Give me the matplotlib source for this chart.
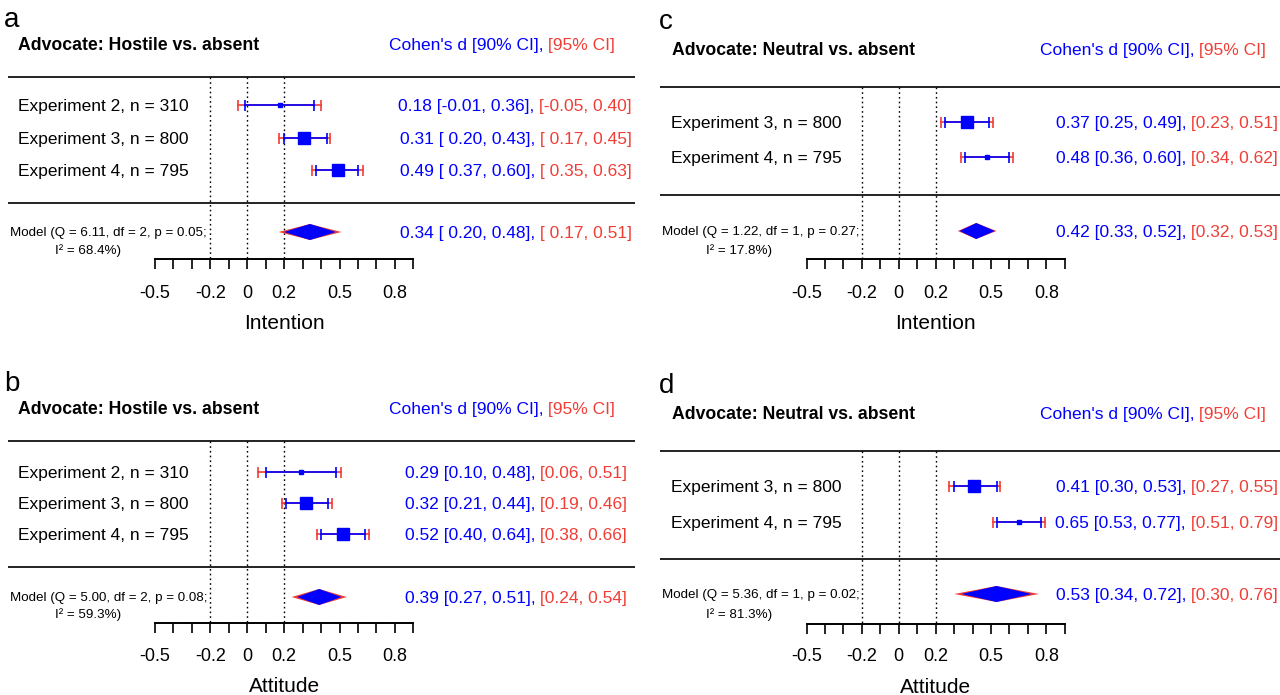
import matplotlib
matplotlib.use('Agg')
import matplotlib.pyplot as plt
import numpy as np

plt.rcParams['font.family'] = ['Liberation Sans', 'DejaVu Sans']

BLUE = '#0000FF'
RED = '#F03E36'

# ---------------- data ----------------
# Panel a: Intention, hostile vs absent
labels_a = ["Experiment 2, n = 310", "Experiment 3, n = 800", "Experiment 4, n = 795"]
d_a = [0.18, 0.31, 0.49]
lo90_a = [-0.01, 0.20, 0.37]
hi90_a = [0.36, 0.43, 0.60]
lo95_a = [-0.05, 0.17, 0.35]
hi95_a = [0.40, 0.45, 0.63]
model_a = [0.34, 0.20, 0.48, 0.17, 0.51]      # d, lo90, hi90, lo95, hi95
stats_a = ["6.11", "2", "0.05", "68.4"]          # Q, df, p, I2

# Panel b: Attitude, hostile vs absent
labels_b = ["Experiment 2, n = 310", "Experiment 3, n = 800", "Experiment 4, n = 795"]
d_b = [0.29, 0.32, 0.52]
lo90_b = [0.10, 0.21, 0.40]
hi90_b = [0.48, 0.44, 0.64]
lo95_b = [0.06, 0.19, 0.38]
hi95_b = [0.51, 0.46, 0.66]
model_b = [0.39, 0.27, 0.51, 0.24, 0.54]
stats_b = ["5.00", "2", "0.08", "59.3"]

# Panel c: Intention, neutral vs absent
labels_c = ["Experiment 3, n = 800", "Experiment 4, n = 795"]
d_c = [0.37, 0.48]
lo90_c = [0.25, 0.36]
hi90_c = [0.49, 0.60]
lo95_c = [0.23, 0.34]
hi95_c = [0.51, 0.62]
model_c = [0.42, 0.33, 0.52, 0.32, 0.53]
stats_c = ["1.22", "1", "0.27", "17.8"]

# Panel d: Attitude, neutral vs absent
labels_d = ["Experiment 3, n = 800", "Experiment 4, n = 795"]
d_d = [0.41, 0.65]
lo90_d = [0.30, 0.53]
hi90_d = [0.53, 0.77]
lo95_d = [0.27, 0.51]
hi95_d = [0.55, 0.79]
model_d = [0.53, 0.34, 0.72, 0.30, 0.76]
stats_d = ["5.36", "1", "0.02", "81.3"]

tick_vals = np.round(np.arange(-0.5, 0.91, 0.1), 1)
tick_labels = {-0.5: "-0.5", -0.2: "-0.2", 0.0: "0", 0.2: "0.2", 0.5: "0.5", 0.8: "0.8"}
ref_lines = [-0.2, 0.0, 0.2]

# ---------------- layout (pixels) ----------------
W, H = 1280, 695
SCALE = 184.5  # px per unit of d
DY = 1.5       # visual centring offset for text

panels = [
    dict(letter='a', title='Advocate: Hostile vs. absent', xlabel='Intention',
         labels=labels_a, d=d_a, lo90=lo90_a, hi90=hi90_a, lo95=lo95_a, hi95=hi95_a,
         model=model_a, stats=stats_a, msize=[2.5, 9, 9],
         left=0, top=0, axis_px=155, letter_xy=(4, 20), title_xy=(18, 44), head_end=615,
         hl=(8, 635), hl1=77, rows=[105, 138, 170], hl2=203, model_y=232, i2_y=250,
         axis_y=259, lab_x=18, model_end=207, i2_x=88, val_end=632, ticklab_y=292, xlab_y=322),
    dict(letter='b', title='Advocate: Hostile vs. absent', xlabel='Attitude',
         labels=labels_b, d=d_b, lo90=lo90_b, hi90=hi90_b, lo95=lo95_b, hi95=hi95_b,
         model=model_b, stats=stats_b, msize=[2.5, 9, 9],
         left=0, top=347.5, axis_px=155, letter_xy=(4, 384), title_xy=(18, 408), head_end=615,
         hl=(8, 635), hl1=441, rows=[472, 503, 534], hl2=567, model_y=597, i2_y=614,
         axis_y=623, lab_x=18, model_end=207, i2_x=88, val_end=627, ticklab_y=655, xlab_y=685),
    dict(letter='c', title='Advocate: Neutral vs. absent', xlabel='Intention',
         labels=labels_c, d=d_c, lo90=lo90_c, hi90=hi90_c, lo95=lo95_c, hi95=hi95_c,
         model=model_c, stats=stats_c, msize=[9, 2.5],
         left=640, top=0, axis_px=806.5, letter_xy=(659, 22), title_xy=(672, 49), head_end=1266,
         hl=(660, 1280), hl1=87, rows=[122, 157], hl2=195, model_y=231, i2_y=250,
         axis_y=259, lab_x=671, model_end=860, i2_x=739, val_end=1278, ticklab_y=292, xlab_y=322),
    dict(letter='d', title='Advocate: Neutral vs. absent', xlabel='Attitude',
         labels=labels_d, d=d_d, lo90=lo90_d, hi90=hi90_d, lo95=lo95_d, hi95=hi95_d,
         model=model_d, stats=stats_d, msize=[8.5, 2.5],
         left=640, top=347.5, axis_px=806.5, letter_xy=(659, 386), title_xy=(672, 413), head_end=1266,
         hl=(660, 1280), hl1=451, rows=[486, 522], hl2=559, model_y=594, i2_y=614,
         axis_y=624, lab_x=671, model_end=860, i2_x=739, val_end=1278, ticklab_y=655, xlab_y=686),
]

FS = 12.5
fig = plt.figure(figsize=(W / 100, H / 100), dpi=100)


def fmt_ci(lo, hi, pad):
    if pad:
        return f"[{lo:5.2f}, {hi:.2f}]"
    return f"[{lo:.2f}, {hi:.2f}]"


for p in panels:
    left, top = p['left'], p['top']
    ax = fig.add_axes([left / W, 1 - (top + 347.5) / H, 640 / W, 347.5 / H])
    ax.set_axis_off()
    ax.set_xlim(-0.5 - (p['axis_px'] - left) / SCALE, -0.5 + (left + 640 - p['axis_px']) / SCALE)
    ax.set_ylim(top + 347.5, top)

    def X(px, p=p):
        return -0.5 + (px - p['axis_px']) / SCALE

    # panel letter and headings
    ax.text(X(p['letter_xy'][0]), p['letter_xy'][1], p['letter'], fontsize=20,
            ha='left', va='center')
    ax.text(X(p['title_xy'][0]), p['title_xy'][1] + DY, p['title'], fontsize=12.7,
            fontweight='bold', ha='left', va='center')
    r = ax.text(X(p['head_end']), p['title_xy'][1] + DY, " [95% CI]", color=RED, fontsize=FS,
                ha='right', va='center')
    ax.annotate("Cohen's d [90% CI],", xy=(0, 0.5), xycoords=r, color=BLUE, fontsize=FS,
                ha='right', va='center')

    # horizontal separators
    for yy in (p['hl1'], p['hl2']):
        ax.plot([X(p['hl'][0]), X(p['hl'][1])], [yy, yy], color='#222222', lw=1.4,
                solid_capstyle='butt', clip_on=False)

    # dotted reference lines
    ax.vlines(ref_lines, p['hl1'], p['axis_y'], colors='black', lw=1.0,
              linestyles=(0, (1.2, 2.2)))

    pad = any(v < 0 for v in p['lo90'] + p['lo95'] + p['model'])

    # studies
    for i, lab in enumerate(p['labels']):
        y = p['rows'][i]
        ax.text(X(p['lab_x']), y + DY, lab, fontsize=FS, ha='left', va='center')
        lo95, hi95 = p['lo95'][i], p['hi95'][i]
        lo90, hi90 = p['lo90'][i], p['hi90'][i]
        ax.plot([lo95, hi95], [y, y], color=RED, lw=1.2, zorder=2)
        ax.vlines([lo95, hi95], y - 5.5, y + 5.5, colors=RED, lw=1.2, zorder=2)
        ax.plot([lo90, hi90], [y, y], color=BLUE, lw=1.2, zorder=3)
        ax.vlines([lo90, hi90], y - 5.5, y + 5.5, colors=BLUE, lw=1.2, zorder=3)
        ax.plot([p['d'][i]], [y], marker='s', ms=p['msize'][i], color=BLUE,
                mec=BLUE, zorder=4)
        rt = ax.text(X(p['val_end']), y + DY, " " + fmt_ci(lo95, hi95, pad), color=RED,
                     fontsize=FS, ha='right', va='center')
        ax.annotate(f"{p['d'][i]:.2f} " + fmt_ci(lo90, hi90, pad) + ",", xy=(0, 0.5),
                    xycoords=rt, color=BLUE, fontsize=FS, ha='right', va='center')

    # model diamond
    m = p['model']
    y = p['model_y']
    hh = 8
    ax.fill([m[3], m[0], m[4], m[0]], [y, y - hh, y, y + hh], color=RED, lw=0, zorder=2)
    ax.fill([m[1], m[0], m[2], m[0]], [y, y - hh, y, y + hh], color=BLUE, lw=0, zorder=3)
    s = p['stats']
    ax.text(X(p['model_end']), y + 1, f"Model (Q = {s[0]}, df = {s[1]}, p = {s[2]};",
            fontsize=9.6, ha='right', va='center')
    ax.text(X(p['i2_x']), p['i2_y'] + 1, f"I² = {s[3]}%)", fontsize=9.6, ha='center', va='center')
    rt = ax.text(X(p['val_end']), y + DY, " " + fmt_ci(m[3], m[4], pad), color=RED,
                 fontsize=FS, ha='right', va='center')
    ax.annotate(f"{m[0]:.2f} " + fmt_ci(m[1], m[2], pad) + ",", xy=(0, 0.5),
                xycoords=rt, color=BLUE, fontsize=FS, ha='right', va='center')

    # x axis (line on top, ticks hanging down)
    ay = p['axis_y']
    ax.plot([tick_vals[0], tick_vals[-1]], [ay, ay], color='black', lw=1.4,
            solid_capstyle='projecting')
    ax.vlines(tick_vals, ay, ay + 10, colors='black', lw=1.2)
    for tv, tl in tick_labels.items():
        ax.text(tv, p['ticklab_y'] + DY, tl, fontsize=13, ha='center', va='center')
    ax.text(0.2, p['xlab_y'] + DY, p['xlabel'], fontsize=15, ha='center', va='center')

fig.savefig('out.png', dpi=100)
